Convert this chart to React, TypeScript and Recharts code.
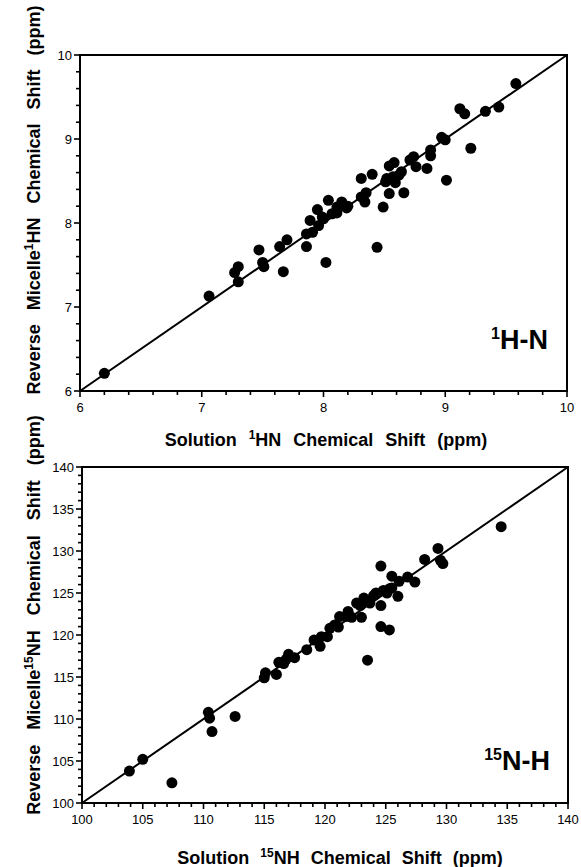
import { ScatterChart, Scatter, XAxis, YAxis, ReferenceLine, ReferenceArea } from "recharts";

// 1H amide shifts (ppm): solution vs reverse micelle
const hnSolution = [
  6.2, 7.06, 7.27, 7.3, 7.3, 7.47, 7.5, 7.51, 7.64, 7.7, 7.67, 7.86, 7.86, 7.91, 7.89, 7.95, 7.96, 7.99,
  8.02, 8.04, 8.07, 8.11, 8.15, 8.19, 8.11, 8.31, 8.4, 8.31, 8.35, 8.34, 8.44, 8.49, 8.51, 8.54, 8.54,
  8.58, 8.59, 8.64, 8.66, 8.71, 8.74, 8.76, 8.85, 8.88, 8.88, 8.97, 9.0, 9.01, 9.12, 9.16, 9.21, 9.33,
  9.44, 9.58, 8.57, 8.52, 8.62, 8.2, 8.0,
];
const hnMicelle = [
  6.21, 7.13, 7.41, 7.48, 7.3, 7.68, 7.53, 7.48, 7.72, 7.8, 7.42, 7.72, 7.87, 7.89, 8.03, 8.16, 7.97, 8.07,
  7.53, 8.27, 8.11, 8.12, 8.25, 8.18, 8.19, 8.53, 8.58, 8.31, 8.36, 8.25, 7.71, 8.19, 8.49, 8.35, 8.68,
  8.72, 8.48, 8.61, 8.36, 8.75, 8.79, 8.67, 8.65, 8.87, 8.8, 9.02, 8.99, 8.51, 9.36, 9.3, 8.89, 9.33,
  9.38, 9.66, 8.55, 8.53, 8.57, 8.2, 8.05,
];

// 15N amide shifts (ppm)
const nhSolution = [
  103.9, 105.0, 107.4, 110.4, 110.5, 110.7, 112.6, 115.0, 115.1, 116.0, 116.2, 116.6, 116.8, 117.0, 117.5,
  118.5, 119.1, 119.6, 119.7, 120.2, 120.4, 120.8, 121.1, 121.2, 121.7, 121.9, 122.2, 122.9, 123.0, 123.2,
  123.5, 123.7, 124.0, 124.6, 124.6, 124.6, 124.8, 125.1, 125.3, 125.5, 125.5, 126.0, 126.1, 126.8, 127.4,
  128.2, 129.3, 129.5, 129.7, 134.5, 124.2, 122.6, 125.3,
];
const nhMicelle = [
  103.8, 105.2, 102.4, 110.8, 110.1, 108.5, 110.3, 114.9, 115.5, 115.3, 116.75, 116.6, 117.1, 117.7, 117.3,
  118.25, 119.4, 118.65, 119.8, 119.8, 120.8, 121.2, 120.95, 122.2, 122.2, 122.8, 122.1, 123.5, 122.1, 124.4,
  117.0, 123.8, 124.7, 123.5, 128.2, 121.0, 125.3, 125.0, 120.6, 127.0, 125.6, 124.6, 126.4, 126.9, 126.3,
  129.0, 130.3, 128.9, 128.5, 132.9, 125.0, 123.8, 125.5,
];

const hnTicks = [6, 7, 8, 9, 10];
const nhTicks = [100, 105, 110, 115, 120, 125, 130, 135, 140];

const hnData = hnSolution.map((x, i) => ({ x, y: hnMicelle[i] }));
const nhData = nhSolution.map((x, i) => ({ x, y: nhMicelle[i] }));

// majors plus evenly spaced minor marks between them
function withMinors(majors: number[], parts: number) {
  const out: number[] = [];
  for (let i = 0; i < majors.length - 1; i++) {
    const step = (majors[i + 1] - majors[i]) / parts;
    for (let k = 0; k < parts; k++) out.push(Math.round((majors[i] + k * step) * 1000) / 1000);
  }
  out.push(majors[majors.length - 1]);
  return out;
}

const FONT = "Arial, 'Liberation Sans', sans-serif";

function XTick({ x, y, payload, majors }: any) {
  const major = majors.includes(payload.value);
  return (
    <g>
      <line x1={x} x2={x} y1={y} y2={y + (major ? 6 : 4)} stroke="#000" strokeWidth={1.6} />
      {major && (
        <text x={x} y={y + 21} textAnchor="middle" fontSize={13} fontFamily={FONT} fill="#000">
          {payload.value}
        </text>
      )}
    </g>
  );
}

function YTick({ x, y, payload, majors }: any) {
  const major = majors.includes(payload.value);
  return (
    <g>
      <line x1={x} x2={x - (major ? 6 : 4)} y1={y} y2={y} stroke="#000" strokeWidth={1.6} />
      {major && (
        <text x={x - 8} y={y + 5} textAnchor="end" fontSize={13} fontFamily={FONT} fill="#000">
          {payload.value}
        </text>
      )}
    </g>
  );
}

const dot = (p: any) => <circle cx={p.cx} cy={p.cy} r={5.5} fill="#000" />;

interface PanelProps {
  data: { x: number; y: number }[];
  majors: number[];
  parts: number;
  top: number;
  height: number;
  margin: { top: number; right: number; bottom: number; left: number };
}

function Panel({ data, majors, parts, top, height, margin }: PanelProps) {
  const lo = majors[0];
  const hi = majors[majors.length - 1];
  const ticks = withMinors(majors, parts);
  return (
    <div style={{ position: "absolute", left: 0, top }}>
      <ScatterChart width={581} height={height} margin={margin}>
        <XAxis
          type="number"
          dataKey="x"
          domain={[lo, hi]}
          ticks={ticks}
          interval={0}
          height={30}
          allowDataOverflow
          axisLine={{ stroke: "#000", strokeWidth: 2 }}
          tickLine={false}
          tickSize={0}
          tickMargin={0}
          tick={<XTick majors={majors} />}
        />
        <YAxis
          type="number"
          dataKey="y"
          domain={[lo, hi]}
          ticks={ticks}
          interval={0}
          width={40}
          allowDataOverflow
          axisLine={{ stroke: "#000", strokeWidth: 2 }}
          tickLine={false}
          tickSize={0}
          tickMargin={0}
          tick={<YTick majors={majors} />}
        />
        <ReferenceArea x1={lo} x2={hi} y1={lo} y2={hi} fill="none" stroke="#000" strokeWidth={2} fillOpacity={0} />
        <ReferenceLine
          segment={[{ x: lo, y: lo }, { x: hi, y: hi }]}
          stroke="#000"
          strokeWidth={2}
        />
        <Scatter data={data} shape={dot} isAnimationActive={false} />
      </ScatterChart>
    </div>
  );
}

export default function App() {
  const bold = { fontFamily: FONT, fontWeight: 700, fill: "#000" } as const;
  return (
    <div style={{ position: "absolute", left: 0, top: 0, width: 581, height: 867, background: "#fff" }}>
      <Panel
        data={hnData}
        majors={hnTicks}
        parts={5}
        top={0}
        height={430}
        margin={{ top: 55, right: 14, bottom: 9, left: 40 }}
      />
      <Panel
        data={nhData}
        majors={nhTicks}
        parts={5}
        top={420}
        height={447}
        margin={{ top: 47, right: 13, bottom: 34, left: 42 }}
      />
      <svg width={581} height={867} style={{ position: "absolute", left: 0, top: 0, pointerEvents: "none" }}>
        <text transform="translate(40,200) rotate(-90)" textAnchor="middle" fontSize={18} wordSpacing={9} {...bold}>
          Reverse Micelle<tspan dy={-7} fontSize={12}>1</tspan>
          <tspan dy={7}>HN Chemical Shift (ppm)</tspan>
        </text>
        <text x={326} y={446} textAnchor="middle" fontSize={18} wordSpacing={7} {...bold}>
          Solution <tspan dy={-7} fontSize={12}>1</tspan>
          <tspan dy={7}>HN Chemical Shift (ppm)</tspan>
        </text>
        <text x={548} y={349} textAnchor="end" fontSize={27} {...bold}>
          <tspan dy={-10} fontSize={16}>1</tspan>
          <tspan dy={10}>H-N</tspan>
        </text>

        <text transform="translate(40,615) rotate(-90)" textAnchor="middle" fontSize={18} wordSpacing={10} {...bold}>
          Reverse Micelle<tspan dy={-7} fontSize={12}>15</tspan>
          <tspan dy={7}>NH Chemical Shift (ppm)</tspan>
        </text>
        <text x={340} y={864} textAnchor="middle" fontSize={18} wordSpacing={6} {...bold}>
          Solution <tspan dy={-7} fontSize={12}>15</tspan>
          <tspan dy={7}>NH Chemical Shift (ppm)</tspan>
        </text>
        <text x={550} y={770} textAnchor="end" fontSize={27} {...bold}>
          <tspan dy={-10} fontSize={16}>15</tspan>
          <tspan dy={10}>N-H</tspan>
        </text>
      </svg>
    </div>
  );
}
